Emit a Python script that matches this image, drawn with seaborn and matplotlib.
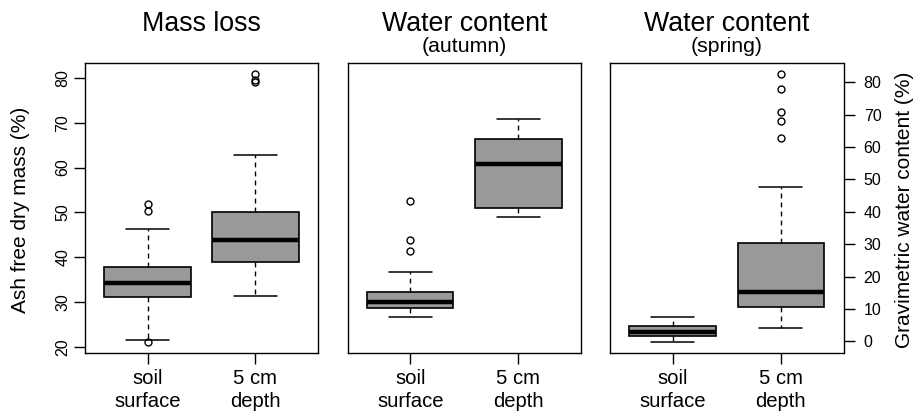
import numpy as np
import pandas as pd
import matplotlib
matplotlib.use("Agg")
import matplotlib.pyplot as plt
import seaborn as sns

# ---------------- data ----------------
categories = ["soil\nsurface", "5 cm\ndepth"]

# Mass loss: ash free dry mass (%)
mass_surface = [21.1, 21.7, 30.0, 31.2, 32.3, 33.4, 34.4, 35.4, 36.6, 37.8,
                46.4, 50.4, 52.0]
mass_depth = [31.5, 34.0, 36.0, 37.5, 38.5, 39.0, 40.0, 41.5, 42.5, 43.2,
              43.9, 45.0, 46.5, 48.0, 49.2, 50.0, 56.0, 62.9, 79.1, 79.6, 80.9]

# Water content (autumn): gravimetric water content (%)
autumn_surface = [7.6, 8.4, 9.0, 9.7, 10.2, 10.8, 11.3, 11.8, 12.2, 13.0,
                  13.8, 14.6, 15.3, 21.5, 27.8, 31.2, 43.4]
autumn_depth = [38.5, 40.0, 41.2, 48.0, 54.7, 58.0, 62.3, 65.0, 68.7]

# Water content (spring): gravimetric water content (%)
spring_surface = [-0.3, 0.8, 1.5, 2.2, 3.0, 3.9, 4.8, 6.0, 7.4]
spring_depth = [4.2, 6.0, 7.5, 8.5, 9.3, 10.0, 10.6, 11.5, 12.3, 13.2, 14.0,
                14.7, 15.3, 17.0, 19.5, 22.0, 25.0, 28.0, 30.4, 47.6, 62.9,
                67.9, 70.7, 77.8, 82.6]

left_ticks = [20, 30, 40, 50, 60, 70, 80]
right_ticks = [0, 10, 20, 30, 40, 50, 60, 70, 80]

titles = ["Mass loss", "Water content", "Water content"]
subtitles = [None, "(autumn)", "(spring)"]
left_label = "Ash free dry mass (%)"
right_label = "Gravimetric water content (%)"

# ---------------- style ----------------
sns.set_theme(style="ticks")
plt.rcParams['font.family'] = ['Liberation Sans', 'DejaVu Sans']
plt.rcParams['axes.edgecolor'] = 'black'
plt.rcParams['axes.linewidth'] = 1.0
plt.rcParams['xtick.color'] = 'black'
plt.rcParams['ytick.color'] = 'black'
plt.rcParams['xtick.labelcolor'] = 'black'
plt.rcParams['ytick.labelcolor'] = 'black'
plt.rcParams['text.color'] = 'black'
plt.rcParams['axes.labelcolor'] = 'black'

BOX_FILL = "#999999"

W, H = 916, 415
fig = plt.figure(figsize=(W / 100, H / 100), dpi=100)


def add_ax(x0, x1, y0, y1):
    return fig.add_axes([x0 / W, 1 - y1 / H, (x1 - x0) / W, (y1 - y0) / H])


ax1 = add_ax(85, 318, 63, 353)
ax2 = add_ax(347.5, 581, 63, 353)
ax3 = add_ax(610, 843.5, 63, 353)


def r_lim(vals):
    lo, hi = min(vals), max(vals)
    ext = 0.04 * (hi - lo)
    return lo - ext, hi + ext


def panel(ax, surface, depth):
    df = pd.DataFrame({
        "site": [categories[0]] * len(surface) + [categories[1]] * len(depth),
        "value": list(surface) + list(depth),
    })
    sns.boxplot(
        data=df, x="site", y="value", order=categories, ax=ax,
        color=BOX_FILL, linecolor="black", linewidth=1.2, width=0.8,
        saturation=1, whis=1.5, fliersize=5,
        medianprops=dict(color="black", linewidth=3.2, solid_capstyle="butt"),
        whiskerprops=dict(linestyle=(0, (3.5, 3)), linewidth=1.0),
        capprops=dict(linewidth=1.1),
        flierprops=dict(marker="o", markersize=5, markerfacecolor="none",
                        markeredgecolor="black", markeredgewidth=1.0),
    )
    ax.set_xlabel("")
    ax.set_ylabel("")
    ax.set_xlim(-0.58, 1.58)
    for s in ax.spines.values():
        s.set_visible(True)
        s.set_linewidth(1.0)
        s.set_color("black")
    ax.tick_params(axis="x", length=8, width=1.0, labelsize=14.6, pad=3.5,
                   labelcolor="black")
    for lbl in ax.get_xticklabels():
        lbl.set_linespacing(1.25)


panel(ax1, mass_surface, mass_depth)
panel(ax2, autumn_surface, autumn_depth)
panel(ax3, spring_surface, spring_depth)

ax1.set_ylim(r_lim(mass_surface + mass_depth))
wlim = r_lim(autumn_surface + autumn_depth + spring_surface + spring_depth)
ax2.set_ylim(wlim)
ax3.set_ylim(wlim)

# left axis
ax1.set_yticks(left_ticks)
ax1.tick_params(axis="y", length=8, width=1.0, labelsize=11.5, pad=2.5,
                labelcolor="black")
for lbl in ax1.get_yticklabels():
    lbl.set_rotation(90)
    lbl.set_va("center")
ax1.set_ylabel(left_label, fontsize=15, va="center", ha="center",
               color="black")
ax1.yaxis.set_label_coords((20.7 - 85) / 233, 0.493)

# middle axis: no y ticks
ax2.set_yticks([])

# right axis
ax3.yaxis.tick_right()
ax3.set_yticks(right_ticks)
ax3.tick_params(axis="y", length=8, width=1.0, labelsize=11.5, pad=6.5,
                labelcolor="black")
ax3.yaxis.set_label_position("right")
ax3.set_ylabel(right_label, fontsize=15, va="center", ha="center",
               rotation=90, color="black")
ax3.yaxis.set_label_coords((904 - 610) / 233.5, 0.493)

# titles
for ax, t, st in zip([ax1, ax2, ax3], titles, subtitles):
    ax.text(0.5, 1.112, t, transform=ax.transAxes, ha="center",
            va="baseline", fontsize=19.3, color="black")
    if st:
        ax.text(0.5, 1.039, st, transform=ax.transAxes, ha="center",
                va="baseline", fontsize=15.3, color="black")

fig.savefig("out.png", dpi=100)
